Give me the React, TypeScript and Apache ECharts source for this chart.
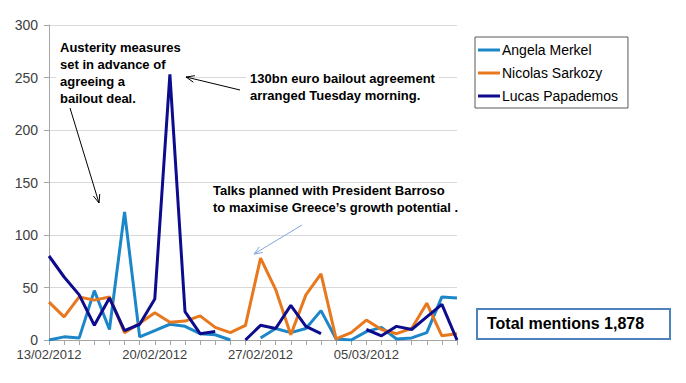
import React, { useEffect, useRef } from "react";
import * as echarts from "echarts";

const dates = [
  "13/02/2012", "14/02/2012", "15/02/2012", "16/02/2012", "17/02/2012", "18/02/2012", "19/02/2012",
  "20/02/2012", "21/02/2012", "22/02/2012", "23/02/2012", "24/02/2012", "25/02/2012", "26/02/2012",
  "27/02/2012", "28/02/2012", "29/02/2012", "01/03/2012", "02/03/2012", "03/03/2012", "04/03/2012",
  "05/03/2012", "06/03/2012", "07/03/2012", "08/03/2012", "09/03/2012", "10/03/2012", "11/03/2012",
];

const merkel = [0, 3, 2, 47, 10, 122, 3, 9, 15, 13, 6, 5, 0, null, 2, 11, 7, 11, 28, 1, 0, 8, 12, 1, 2, 7, 41, 40];
const sarkozy = [36, 22, 41, 38, 41, 7, 16, 26, 17, 18, 23, 12, 7, 14, 78, 48, 5, 43, 63, 1, 7, 19, 10, 6, 11, 35, 4, 6];
const papademos = [80, 60, 43, 14, 40, 9, 15, 39, 253, 27, 6, 8, null, 0, 14, 11, 33, 13, 6, null, null, 10, 4, 13, 10, 22, 34, 0];

const seriesNames = ["Angela Merkel", "Nicolas Sarkozy", "Lucas Papademos"];
const seriesColors = ["#1B87C9", "#E8781E", "#0C0C8C"];

const note1 = ["Austerity measures", "set in advance of", "agreeing a", "bailout deal."];
const note2 = ["130bn euro bailout agreement", "arranged Tuesday morning."];
const note3 = ["Talks planned with President Barroso", "to maximise Greece\u2019s growth potential ."];
const totalText = "Total mentions 1,878";

function arrow(x1: number, y1: number, x2: number, y2: number, color: string) {
  const ang = Math.atan2(y2 - y1, x2 - x1);
  const len = 9;
  const spread = 0.38;
  const p1 = [x2 - len * Math.cos(ang - spread), y2 - len * Math.sin(ang - spread)];
  const p2 = [x2 - len * Math.cos(ang + spread), y2 - len * Math.sin(ang + spread)];
  return [
    { type: "line", z: 20, shape: { x1, y1, x2, y2 }, style: { stroke: color, lineWidth: 1 } },
    { type: "polyline", z: 20, shape: { points: [p1, [x2, y2], p2] }, style: { stroke: color, lineWidth: 1, fill: null } },
  ];
}

function noteText(lines: string[], x: number, y: number, bg: boolean) {
  return {
    type: "text",
    left: x,
    top: y,
    z: 1,
    style: {
      text: lines.join("\n"),
      font: "bold 13px 'Liberation Sans', Arial, sans-serif",
      lineHeight: 17,
      fill: "#000",
      backgroundColor: bg ? "#fff" : undefined,
      padding: bg ? [2, 4, 2, 4] : 0,
    },
  };
}

export default function App() {
  const ref = useRef<HTMLDivElement>(null);
  useEffect(() => {
    if (!ref.current) return;
    const chart = echarts.init(ref.current, null, { renderer: "svg" });
    const data = [merkel, sarkozy, papademos];
    chart.setOption({
      animation: false,
      backgroundColor: "#fff",
      grid: { left: 49, right: 229, top: 25, bottom: 43 },
      legend: {
        orient: "vertical",
        left: 475,
        top: 37,
        width: 156,
        padding: [6, 10, 5, 3],
        itemGap: 9,
        itemWidth: 22,
        itemHeight: 3,
        icon: "rect",
        borderColor: "#595959",
        borderWidth: 1,
        data: seriesNames,
        textStyle: { fontFamily: "'Liberation Sans', Arial, sans-serif", fontSize: 14, color: "#000", padding: [0, 0, 0, -3] },
      },
      xAxis: {
        type: "category",
        data: dates,
        boundaryGap: false,
        axisLine: { lineStyle: { color: "#A6A6A6", width: 1 } },
        axisTick: { show: true, interval: 0, length: 5, lineStyle: { color: "#A6A6A6" } },
        axisLabel: {
          interval: (i: number) => i % 7 === 0,
          color: "#404040",
          fontFamily: "'Liberation Sans', Arial, sans-serif",
          fontSize: 13,
          margin: 8,
          hideOverlap: false,
        },
      },
      yAxis: {
        type: "value",
        min: 0,
        max: 300,
        interval: 50,
        axisLine: { show: true, lineStyle: { color: "#A6A6A6" } },
        axisTick: { show: true, length: 5, lineStyle: { color: "#A6A6A6" } },
        splitLine: { lineStyle: { color: "#D9D9D9" } },
        axisLabel: {
          color: "#404040",
          fontFamily: "'Liberation Sans', Arial, sans-serif",
          fontSize: 14,
          margin: 11,
        },
      },
      series: seriesNames.map((name, i) => ({
        name,
        type: "line",
        data: data[i],
        showSymbol: false,
        symbol: "none",
        connectNulls: false,
        lineStyle: { width: 3, color: seriesColors[i] },
        itemStyle: { color: seriesColors[i] },
        z: i === 2 ? 4 : 3,
      })),
      graphic: [
        noteText(note1, 56, 37, true),
        noteText(note2, 246, 68, true),
        noteText(note3, 213, 182, false),
        ...arrow(70, 108, 99, 203, "#000"),
        ...arrow(240, 90, 186, 77, "#000"),
        ...arrow(302, 225, 254, 254, "#7FA6D8"),
        {
          type: "rect",
          z: 10,
          shape: { x: 477, y: 309, width: 193, height: 30 },
          style: { fill: "#fff", stroke: "#4F81BD", lineWidth: 2 },
        },
        {
          type: "text",
          z: 11,
          left: 487,
          top: 315,
          style: {
            text: totalText,
            font: "bold 16px 'Liberation Sans', Arial, sans-serif",
            fill: "#000",
          },
        },
      ],
    });
    return () => chart.dispose();
  }, []);
  return <div ref={ref} style={{ position: "fixed", left: 0, top: 0, width: 686, height: 383 }} />;
}
